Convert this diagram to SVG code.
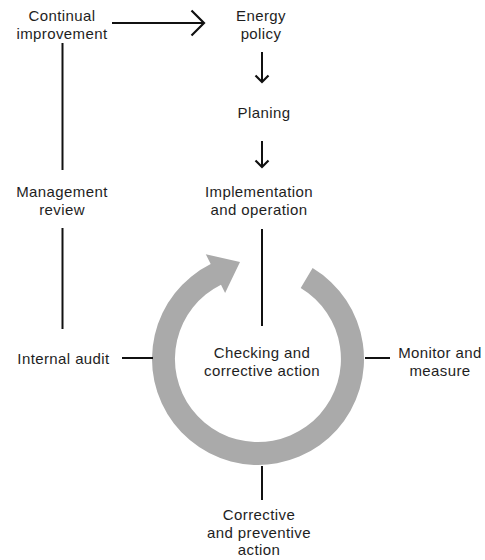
<svg xmlns="http://www.w3.org/2000/svg" width="485" height="560" viewBox="0 0 485 560">
<style>
text{font-family:"Liberation Sans",Arial,sans-serif;font-size:15px;fill:#1e1e1e;text-anchor:middle;letter-spacing:0.4px}
.ln{stroke:#111;stroke-width:2;fill:none}
.chev{stroke:#111;stroke-width:2.2;fill:none;stroke-linecap:butt;stroke-linejoin:miter}
</style>
<rect width="485" height="560" fill="#fff"/>
<g id="cycle">
<path d="M312.6,268.1 A106,106 0 1 1 210.7,264.1 L205.8,254.3 L240,262 L225.1,293 L221,284.7 A83,83 0 1 0 300.7,287.9 Z" fill="#aaaaaa"/>
</g>
<g id="connectors">
<line class="ln" x1="112" y1="23" x2="203" y2="23" stroke-width="2.5"/>
<polyline class="chev" points="191.5,10.5 204,23 191.5,35.5" stroke-width="2.5"/>
<line class="ln" x1="262" y1="52" x2="262" y2="82"/>
<polyline class="chev" points="255.5,75.5 262,82 268.5,75.5"/>
<line class="ln" x1="262" y1="141" x2="262" y2="167"/>
<polyline class="chev" points="255.5,160.5 262,167 268.5,160.5"/>
<line class="ln" x1="62.5" y1="43" x2="62.5" y2="170"/>
<line class="ln" x1="62.5" y1="228" x2="62.5" y2="329"/>
<line class="ln" x1="262" y1="229" x2="262" y2="326"/>
<line class="ln" x1="122" y1="358" x2="153" y2="358"/>
<line class="ln" x1="365" y1="358" x2="390" y2="358"/>
<line class="ln" x1="262" y1="466" x2="262" y2="500"/>
</g>
<g id="continual-improvement"><text x="62" y="21">Continual</text><text x="62" y="39">improvement</text></g>
<g id="energy-policy"><text x="261" y="21">Energy</text><text x="261" y="39">policy</text></g>
<g id="planing"><text x="264" y="118">Planing</text></g>
<g id="implementation"><text x="259" y="197">Implementation</text><text x="259" y="215">and operation</text></g>
<g id="management-review"><text x="62" y="197">Management</text><text x="62" y="215">review</text></g>
<g id="internal-audit"><text x="63.5" y="364">Internal audit</text></g>
<g id="checking"><text x="262" y="358">Checking and</text><text x="262" y="376">corrective action</text></g>
<g id="monitor"><text x="440" y="358">Monitor and</text><text x="440" y="376">measure</text></g>
<g id="corrective"><text x="259" y="520">Corrective</text><text x="259" y="538">and preventive</text><text x="259" y="555">action</text></g>
</svg>
